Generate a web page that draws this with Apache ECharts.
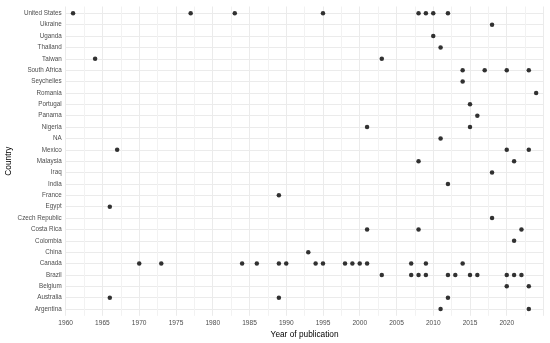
<!DOCTYPE html>
<html>
<head>
<meta charset="utf-8">
<script src="https://cdn.jsdelivr.net/npm/echarts@6/dist/echarts.min.js"></script>
<style>
html,body{margin:0;padding:0;background:#fff;}
#chart{width:550px;height:343px;}
</style>
</head>
<body>
<div id="chart"></div>
<script>
// Categories, bottom to top
const countries = ["Argentina","Australia","Belgium","Brazil","Canada","China","Colombia","Costa Rica","Czech Republic","Egypt","France","India","Iraq","Malaysia","Mexico","NA","Nigeria","Panama","Portugal","Romania","Seychelles","South Africa","Taiwan","Thailand","Uganda","Ukraine","United States"];

// Publications: country and year (parallel arrays)
const pointCountry = [
  "United States","United States","United States","United States","United States","United States","United States","United States",
  "Ukraine","Uganda","Thailand","Taiwan","Taiwan",
  "South Africa","South Africa","South Africa","South Africa",
  "Seychelles","Romania","Portugal","Panama","Nigeria","Nigeria","NA",
  "Mexico","Mexico","Mexico","Malaysia","Malaysia","Iraq","India","France","Egypt","Czech Republic",
  "Costa Rica","Costa Rica","Costa Rica","Colombia","China",
  "Canada","Canada","Canada","Canada","Canada","Canada","Canada","Canada","Canada","Canada","Canada","Canada","Canada","Canada","Canada",
  "Brazil","Brazil","Brazil","Brazil","Brazil","Brazil","Brazil","Brazil","Brazil","Brazil","Brazil",
  "Belgium","Belgium","Australia","Australia","Australia","Argentina","Argentina"
];
const pointYear = [
  1961,1977,1983,1995,2008,2009,2010,2012,
  2018,2010,2011,1964,2003,
  2014,2017,2020,2023,
  2014,2024,2015,2016,2001,2015,2011,
  1967,2020,2023,2008,2021,2018,2012,1989,1966,2018,
  2001,2008,2022,2021,1993,
  1970,1973,1984,1986,1989,1990,1994,1995,1998,1999,2000,2001,2007,2009,2014,
  2003,2007,2008,2009,2012,2013,2015,2016,2020,2021,2022,
  2020,2023,1966,1989,2012,2011,2023
];

const xMin = 1960, xMax = 2025, xStep = 5;

const chart = echarts.init(document.getElementById('chart'), null, {renderer: 'canvas'});
const data = pointYear.map((y, i) => [y, pointCountry[i]]);
const font = 'Liberation Sans, Arial, sans-serif';

chart.setOption({
  animation: false,
  backgroundColor: '#fff',
  grid: [
    {left: 65.7, right: 6.5, top: 6.5, bottom: 27.2, containLabel: false, outerBoundsMode: 'none'},
    {left: 65.7, right: 6.5, top: 13.3, bottom: 34, containLabel: false, outerBoundsMode: 'none'}
  ],
  xAxis: [
    {
      type: 'value', gridIndex: 0, min: xMin, max: xMax, interval: xStep,
      axisLine: {show: false}, axisTick: {show: false},
      axisLabel: {show: true, color: '#4d4d4d', fontSize: 6.6, fontFamily: font, margin: 4,
        showMaxLabel: false, formatter: v => (v >= xMax ? '' : String(v))},
      splitLine: {show: true, lineStyle: {color: '#ebebeb', width: 1}},
      minorTick: {show: false, splitNumber: 2},
      minorSplitLine: {show: true, lineStyle: {color: '#f2f2f2', width: 1}},
      name: 'Year of publication', nameLocation: 'middle', nameGap: 15, nameMoveOverlap: false,
      nameTextStyle: {color: '#000', fontSize: 8.3, fontFamily: font}
    },
    {
      type: 'value', gridIndex: 1, min: xMin, max: xMax, interval: xStep, show: true,
      axisLine: {show: false}, axisTick: {show: false}, axisLabel: {show: false},
      splitLine: {show: false}
    }
  ],
  yAxis: [
    {type: 'value', gridIndex: 0, show: false, min: 0, max: 1},
    {
      type: 'category', gridIndex: 1, data: countries, boundaryGap: false,
      axisLine: {show: false}, axisTick: {show: false},
      axisLabel: {color: '#4d4d4d', fontSize: 6.3, fontFamily: font, margin: 4, interval: 0},
      splitLine: {show: true, interval: 0, lineStyle: {color: '#ebebeb', width: 1}},
      name: 'Country', nameLocation: 'middle', nameGap: 53, nameRotate: 90, nameMoveOverlap: false,
      nameTextStyle: {color: '#000', fontSize: 8.3, fontFamily: font}
    }
  ],
  series: [{
    type: 'scatter', xAxisIndex: 1, yAxisIndex: 1,
    data: data, symbol: 'circle', symbolSize: 4.5,
    itemStyle: {color: '#000'}
  }]
});
</script>
</body>
</html>
